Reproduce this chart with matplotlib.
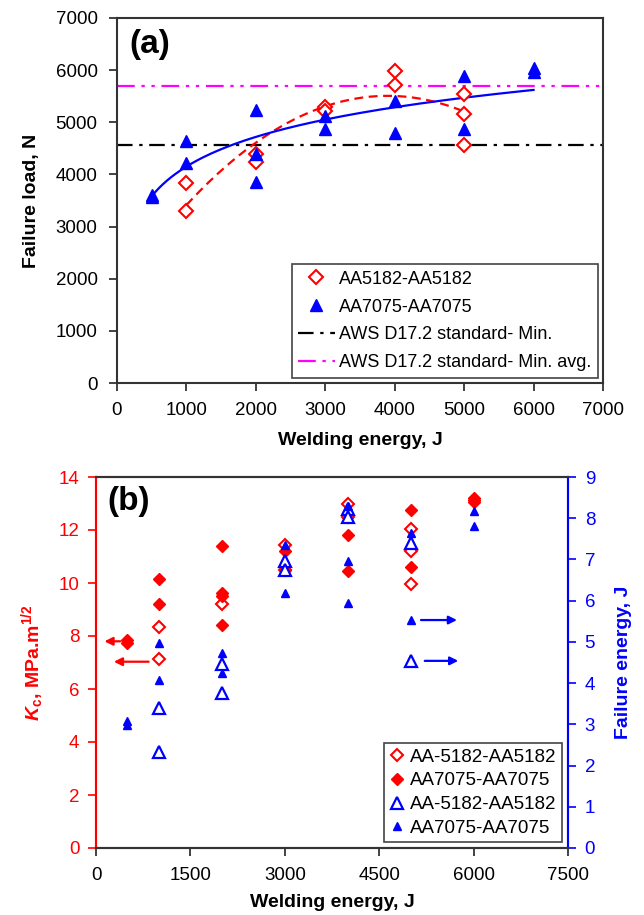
import numpy as np
import matplotlib
matplotlib.use('Agg')
import matplotlib.pyplot as plt

plt.rcParams['font.family'] = ['Liberation Sans', 'DejaVu Sans']
plt.rcParams['mathtext.fontset'] = 'custom'
plt.rcParams['mathtext.rm'] = 'Liberation Sans'
plt.rcParams['mathtext.it'] = 'Liberation Sans:italic:bold'
plt.rcParams['mathtext.bf'] = 'Liberation Sans:bold'

# ---- panel (a): failure load ----
e5182 = [1000, 1000, 2000, 2000, 3000, 3000, 4000, 4000, 5000, 5000, 5000]
load5182 = [3840, 3290, 4400, 4240, 5300, 5220, 5990, 5720, 5550, 5160, 4570]
e7075 = [500, 500, 1000, 1000, 2000, 2000, 2000, 3000, 3000, 4000, 4000,
         5000, 5000, 6000, 6000]
load7075 = [3560, 3600, 4640, 4220, 5240, 4400, 3860, 5120, 4870, 5410, 4800,
            5880, 4870, 6050, 5970]
aws_min = 4560
aws_min_avg = 5700

# ---- panel (b): fracture toughness and failure energy ----
kc5182_e = [1000, 1000, 2000, 3000, 3000, 4000, 4000, 5000, 5000, 5000]
kc5182 = [8.35, 7.13, 9.2, 11.45, 10.5, 13.0, 12.5, 12.04, 11.2, 9.96]
kc7075_e = [500, 500, 1000, 1000, 2000, 2000, 2000, 2000, 3000, 3000,
            4000, 4000, 5000, 5000, 6000, 6000, 6000]
kc7075 = [7.85, 7.75, 10.15, 9.2, 11.4, 9.62, 9.5, 8.42, 11.2, 10.5,
          11.8, 10.45, 12.75, 10.6, 13.2, 13.05, 13.12]
fe5182_e = [1000, 1000, 2000, 2000, 3000, 3000, 4000, 4000, 5000, 5000]
fe5182 = [3.40, 2.33, 4.47, 3.76, 6.97, 6.75, 8.22, 8.03, 7.4, 4.54]
fe7075_e = [500, 500, 1000, 1000, 2000, 2000, 3000, 3000, 4000, 4000, 4000,
            5000, 5000, 6000, 6000]
fe7075 = [3.08, 2.98, 4.97, 4.08, 4.73, 4.25, 7.35, 6.19, 8.3, 6.97, 5.95,
          7.65, 5.53, 8.18, 7.8]

RED = '#FF0000'
BLUE = '#0000FF'
MAG = '#FF00FF'

fig = plt.figure(figsize=(6.44, 9.15), dpi=100)

# ================= (a) =================
ax = fig.add_axes([117/644, 1-383/915, 486/644, 365/915])

# trend lines: 2nd order poly (red) and logarithmic (blue)
p_red = np.polyfit(e5182, load5182, 2)
xr = np.linspace(1000, 5000, 200)
ax.plot(xr, np.polyval(p_red, xr), color=RED, ls=(0, (4, 2.5)), lw=1.6, zorder=2)
p_blue = np.polyfit(np.log(e7075), load7075, 1)
xb = np.linspace(500, 6000, 200)
ax.plot(xb, np.polyval(p_blue, np.log(xb)), color=BLUE, lw=1.6, zorder=2)

ax.plot(e5182, load5182, 'D', ms=7, mfc='white', mec=RED, mew=1.5,
        ls='none', label='AA5182-AA5182', zorder=3)
ax.plot(e7075, load7075, '^', ms=8.5, color=BLUE, ls='none',
        label='AA7075-AA7075', zorder=4)
ax.axhline(aws_min, color='black', lw=1.6, ls=(0, (7, 3, 1.5, 3)),
           label='AWS D17.2 standard- Min.', zorder=1)
ax.axhline(aws_min_avg, color=MAG, lw=1.6, ls=(0, (8, 3, 1.5, 3, 1.5, 3)),
           label='AWS D17.2 standard- Min. avg.', zorder=1)

ax.set_xlim(0, 7000)
ax.set_ylim(0, 7000)
ax.set_xticks(np.arange(0, 7001, 1000))
ax.set_yticks(np.arange(0, 7001, 1000))
ax.tick_params(labelsize=13.5, length=6, width=1.2, pad=8, color='#222222')
for s in ax.spines.values():
    s.set_color('#333333')
    s.set_linewidth(1.5)
ax.set_xlabel('Welding energy, J', fontsize=14, fontweight='bold', labelpad=9)
ax.set_ylabel('Failure load, N', fontsize=14, fontweight='bold', labelpad=11)
ax.text(0.025, 0.97, '(a)', transform=ax.transAxes, fontsize=24,
        fontweight='bold', va='top', ha='left')
leg = ax.legend(loc='lower right', fontsize=13, frameon=True, fancybox=False,
                edgecolor='#444444', framealpha=1, handlelength=2.0,
                labelspacing=0.6, borderaxespad=0.3, borderpad=0.35,
                handletextpad=0.25)
leg.get_frame().set_linewidth(1.2)

# ================= (b) =================
bx = fig.add_axes([96/644, 1-848/915, 472/644, 371/915])
bx2 = bx.twinx()

h1, = bx.plot(kc5182_e, kc5182, 'D', ms=6.5, mfc='white', mec=RED, mew=1.5,
              ls='none', label='AA-5182-AA5182', zorder=3)
h2, = bx.plot(kc7075_e, kc7075, 'D', ms=6.5, color=RED, ls='none',
              label='AA7075-AA7075', zorder=3)
h3, = bx2.plot(fe5182_e, fe5182, '^', ms=8, mfc='white', mec=BLUE, mew=1.6,
               ls='none', label='AA-5182-AA5182', zorder=4)
h4, = bx2.plot(fe7075_e, fe7075, '^', ms=5.5, color=BLUE, ls='none',
               label='AA7075-AA7075', zorder=4)

# axis indicator arrows
arr_r = dict(arrowstyle='-|>', color=RED, lw=1.6, mutation_scale=12)
arr_b = dict(arrowstyle='-|>', color=BLUE, lw=1.6, mutation_scale=12)
bx.annotate('', xy=(90, kc7075[0] - 0.05), xytext=(430, kc7075[0] - 0.05),
            arrowprops=arr_r)
bx.annotate('', xy=(240, kc5182[1] - 0.1), xytext=(880, kc5182[1] - 0.1),
            arrowprops=arr_r)
bx2.annotate('', xy=(5780, fe7075[12]), xytext=(5120, fe7075[12]),
             arrowprops=arr_b)
bx2.annotate('', xy=(5800, fe5182[9]), xytext=(5180, fe5182[9]),
             arrowprops=arr_b)

bx.set_xlim(0, 7500)
bx.set_ylim(0, 14)
bx2.set_ylim(0, 9)
bx.set_xticks(np.arange(0, 7501, 1500))
bx.set_yticks(np.arange(0, 14.1, 2))
bx2.set_yticks(np.arange(0, 9.1, 1))
bx.tick_params(axis='x', labelsize=13.5, length=6, width=1.2, pad=8,
               color='#222222')
bx.tick_params(axis='y', labelsize=13.5, length=6, width=1.2, pad=6,
               color=RED, labelcolor=RED)
bx2.tick_params(axis='y', labelsize=13.5, length=6, width=1.2, pad=6,
                color=BLUE, labelcolor=BLUE)
for a in (bx, bx2):
    a.spines['top'].set_color('#333333')
    a.spines['bottom'].set_color('#333333')
    a.spines['left'].set_color(RED)
    a.spines['right'].set_color(BLUE)
    for s in a.spines.values():
        s.set_linewidth(1.5)
bx.set_xlabel('Welding energy, J', fontsize=14, fontweight='bold', labelpad=7)
bx.set_ylabel(r'$\mathit{K}_{\mathbf{c}}$, MPa.m$^{\mathbf{1/2}}$', fontsize=14,
              fontweight='bold', color=RED, labelpad=9)
bx2.set_ylabel('Failure energy, J', fontsize=14, fontweight='bold',
               color=BLUE, labelpad=14)
bx.text(0.025, 0.975, '(b)', transform=bx.transAxes, fontsize=24,
        fontweight='bold', va='top', ha='left')
leg2 = bx2.legend(handles=[h1, h2, h3, h4], loc='lower right', fontsize=13.5,
                  frameon=True, fancybox=False, edgecolor='#444444',
                  framealpha=1, handlelength=0.8, labelspacing=0.35,
                  borderaxespad=0.3, borderpad=0.3, handletextpad=0.3)
leg2.get_frame().set_linewidth(1.2)

fig.savefig('out.png', dpi=100)
